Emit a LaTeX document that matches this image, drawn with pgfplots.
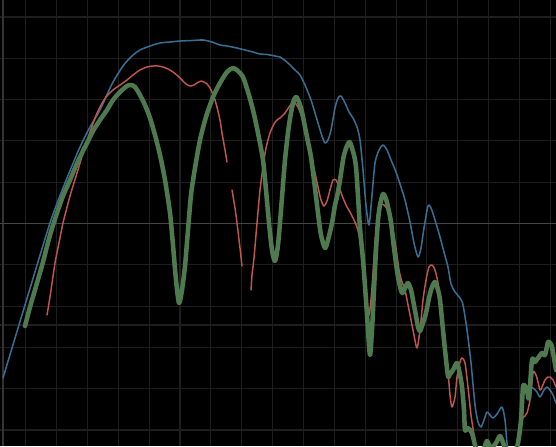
\documentclass[border=0pt]{standalone}
\usepackage{pgfplots}
\pgfplotsset{compat=1.18}

\definecolor{respblue}{HTML}{3A6E91}
\definecolor{respred}{HTML}{C0564F}
\definecolor{respgreen}{HTML}{4F7A50}
\definecolor{gridgray}{HTML}{1E1E1E}
\definecolor{zerogray}{HTML}{464646}
\definecolor{edgegray}{HTML}{333333}

\begin{document}
\begin{tikzpicture}
\begin{axis}[
  scale only axis,
  width=417pt, height=334.5pt,
  xmin=0, xmax=556, ymin=0, ymax=446,
  y dir=reverse,
  axis background/.style={fill=black},
  axis line style={draw=none},
  major tick length=0pt,
  xticklabels={}, yticklabels={},
  xtick={25.5,56.4,87.3,118.2,149.1,180,210.9,241.8,272.7,303.6,334.5,365.4,396.3,426.8,457.2,488.2,519.5,550.8},
  ytick={17,58.3,99.6,140.9,182.2,264.8,306.1,325,347.4,388.7,430},
  grid=major,
  major grid style={color=gridgray, line width=0.8pt},
  extra y ticks={223.4},
  extra y tick labels={},
  extra y tick style={major grid style={color=zerogray, line width=1.3pt}},
  extra x ticks={3},
  extra x tick labels={},
  extra x tick style={major grid style={color=edgegray, line width=0.9pt}},
  every axis plot/.append style={smooth, tension=0.45, line join=round, line cap=round},
]

% reference response
\addplot[respblue, line width=1.15pt] coordinates {
(3,378) (25,305) (50,223) (65,183) (80,147) (90,127) (100,110) (112,84) (123,66)
(132,56) (140,50) (150,46) (160,43) (170,42) (180,41) (192,40.5) (203,40) (212,42)
(220,45) (227,46) (237,48) (245,50) (253,52) (260,54) (267,54.5) (275,56) (280,57)
(288,63) (295,70) (300,75) (305,85) (311,100) (315,113) (318,123) (322,136) (325,143)
(328,140) (331,130) (335,108) (338,98) (341,96) (345,103) (349,112) (353,118) (357,127)
(360,140) (363,170) (366,205) (369,225) (372,195) (375,163) (379,150) (383,145)
(387,150) (391,160) (396,172) (401,187) (405,200) (410,222) (414,243) (418,257)
(421,248) (424,228) (428,206) (431,208) (435,220) (440,237) (445,256) (448,267)
(451,284) (455,292) (460,298) (463,305) (467,330) (471,363) (475,405) (478,422)
(481,427) (484,420) (487,412) (490,415) (493,418) (497,414) (502,407) (505,420)
(507,443) (510,460) (514,460) (517,443) (520,420) (523,390) (527,387) (533,388)
(537,392) (540,397) (544,390) (547,387) (550,390) (553,395) (556,403)
};

% measured response, with dropouts
\addplot[respred, line width=1.1pt] coordinates {
(47,315) (50,297) (55,263) (59,243) (63,223) (70,196) (77,173) (84,150) (90,132)
(95,118) (100,107) (106,97) (113,90) (120,85) (127,80) (133,75) (140,70) (147,67)
(153,66) (158,66) (163,67) (168,69) (173,72) (178,76) (182,80) (186,84) (190,86)
(194,85) (197,83) (201,81) (204,82) (207,84) (210,88) (214,97) (217,107) (220,120)
(222,133) (225,150) (227,162)
};
\addplot[respred, line width=1.1pt] coordinates {
(232,190) (235,208) (237,223) (240,248) (242,266)
};
\addplot[respred, line width=1.1pt] coordinates {
(251,290) (252,275) (254,258) (257,223) (260,190) (263,167) (266,148) (270,133)
(274,124) (277,120) (280,118) (285,113) (289,107) (293,102) (296,104) (298,107)
(302,117) (305,127) (308,142) (311,157) (315,173) (318,187) (321,200) (324,206)
(327,201) (330,190) (333,180) (336,180) (339,187) (343,198) (347,207) (350,212)
(353,218) (357,227) (360,240) (362,257) (365,285) (367,307) (369,315) (371,300)
(373,273) (375,243) (378,218) (381,205) (384,205) (387,209) (390,220) (393,232)
(396,248) (399,270) (402,282) (405,290) (408,305) (411,320) (414,335) (417,348)
(420,330) (423,300) (426,280) (429,267) (432,265) (435,270) (438,283) (441,305)
(444,335) (447,360) (450,395) (452,407) (455,397) (457,377) (460,362) (462,358)
(465,363) (468,387) (471,415) (474,435) (477,455)
};
\addplot[respred, line width=1.1pt] coordinates {
(515,460) (518,443) (522,420) (525,416) (527,413) (530,400) (533,373) (535,373)
(537,378) (540,390) (542,387) (545,380) (548,377) (550,377) (553,380) (556,387)
};

% simulated response
\addplot[respgreen, line width=3.4pt] coordinates {
(25,326) (30,307) (37,283) (43,262) (50,235) (57,213) (63,196) (70,180) (78,161)
(87,143) (93,131) (100,120) (107,110) (113,100) (120,92) (127,86) (131,85) (135,87)
(140,95) (145,105) (150,118) (155,135) (160,155) (165,180) (170,213) (173,245)
(176,280) (179,303) (182,290) (185,266) (188,230) (191,195) (195,168) (200,140)
(206,117) (213,97) (220,83) (227,72) (233,68) (238,71) (243,77) (248,92) (253,110)
(258,133) (263,160) (266,190) (269,223) (272,250) (275,261) (278,245) (281,210)
(285,160) (289,125) (293,103) (296,97) (299,102) (302,112) (305,127) (308,142)
(311,157) (314,180) (318,213) (321,235) (325,248) (328,240) (332,223) (335,205)
(337,197) (340,180) (344,155) (349,142) (352,148) (356,167) (360,228) (363,260)
(366,300) (368,330) (370,355) (372,330) (374,290) (376,250) (378,220) (380,205)
(383,194) (386,199) (388,207) (391,222) (394,248) (398,277) (402,293) (405,288)
(408,283) (411,290) (413,300) (416,316) (418,327) (420,331) (423,323) (426,313)
(429,298) (432,287) (435,282) (438,290) (440,300) (443,330) (445,350) (448,376)
(450,374) (453,370) (457,363) (460,375) (462,387) (464,410) (465,430) (468,428)
(472,433) (475,445) (478,452) (484,448) (487,441) (491,448) (496,443) (500,436)
(504,445) (508,455) (514,455) (518,443) (521,420) (523,387) (525,386) (527,390)
(529,398) (532,360) (535,362) (538,358) (542,353) (545,355) (548,342) (550,343)
(552,347) (556,370)
};

\end{axis}
\pgfresetboundingbox
\path (current axis.south west) rectangle (current axis.north east);
\end{tikzpicture}
\end{document}
